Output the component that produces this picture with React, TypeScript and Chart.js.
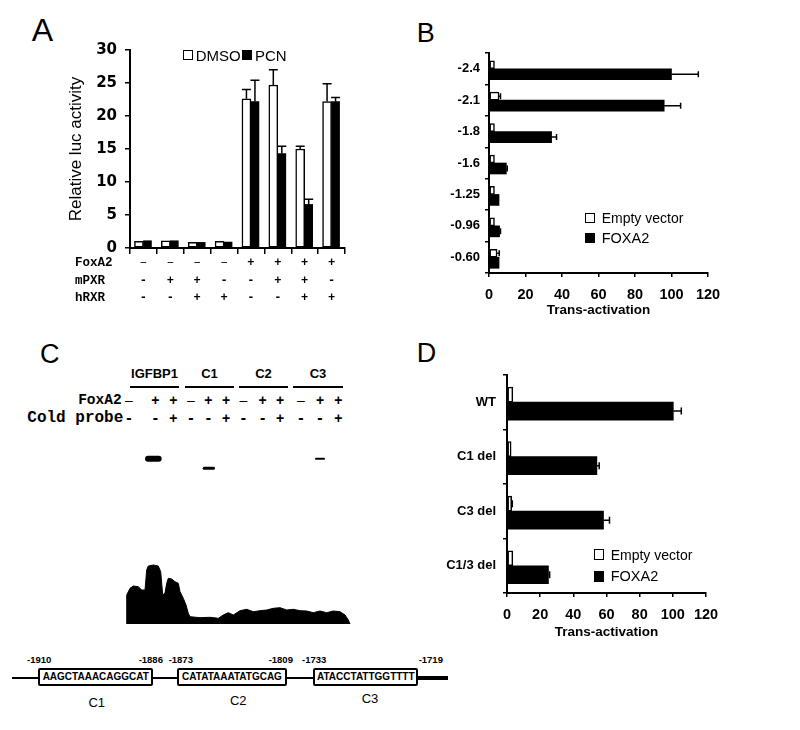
import React, { useEffect, useRef } from 'react';
import { Chart, registerables } from 'chart.js';

Chart.register(...registerables);
Chart.defaults.font.family = 'Liberation Sans';
Chart.defaults.color = '#000';

const SANS = 'Liberation Sans';
const MONO = 'Liberation Mono';

// ---------------- Panel A data ----------------
const aConditions = ['none', 'mPXR', 'mPXR+hRXR', 'hRXR', 'FoxA2', 'FoxA2+mPXR', 'FoxA2+mPXR+hRXR', 'FoxA2+hRXR'];
const aDmso = [1.0, 1.1, 0.85, 1.0, 22.6, 24.7, 15.0, 22.2];
const aDmsoErr = [0, 0, 0, 0, 1.4, 2.3, 0.4, 2.7];
const aPcn = [1.1, 1.1, 0.85, 0.9, 22.2, 14.3, 6.6, 22.2];
const aPcnErr = [0, 0, 0, 0, 3.2, 1.1, 0.8, 0.6];
const aFoxA2Signs = ['–', '–', '–', '–', '+', '+', '+', '+'];
const aMpxrSigns = ['-', '+', '+', '-', '-', '+', '+', '-'];
const aHrxrSigns = ['-', '-', '+', '+', '-', '-', '+', '+'];
const aRowNames = ['FoxA2', 'mPXR', 'hRXR'];
const aYTitle = 'Relative luc activity';
const aSeries = ['DMSO', 'PCN'];

// ---------------- Panel B data ----------------
const bConstructs = ['-2.4', '-2.1', '-1.8', '-1.6', '-1.25', '-0.96', '-0.60'];
const bEmpty = [3, 5.5, 3, 3, 3, 3, 4.4];
const bEmptyErr = [0, 0.8, 0, 0, 0, 0, 1.2];
const bFoxa2 = [100, 96, 34.3, 9.5, 5.5, 5.8, 5.5];
const bFoxa2Err = [14.7, 9, 2.7, 0.5, 0, 0.5, 0];

// ---------------- Panel D data ----------------
const dConstructs = ['WT', 'C1 del', 'C3 del', 'C1/3 del'];
const dEmpty = [3.5, 2.5, 2.8, 3.5];
const dEmptyErr = [0, 0, 0.4, 0];
const dFoxa2 = [100.3, 54.2, 58.2, 25];
const dFoxa2Err = [4.8, 1.4, 3.6, 0.7];

const transTitle = 'Trans-activation';
const transTicksMax = 120;
const transTicksStep = 20;
const bdSeries = ['Empty vector', 'FOXA2'];

// ---------------- Panel C data ----------------
const cProbes = ['IGFBP1', 'C1', 'C2', 'C3'];
const cRowNames = ['FoxA2', 'Cold probe'];
const cFoxA2Signs = ['–', '+', '+', '–', '+', '+', '–', '+', '+', '–', '+', '+'];
const cColdSigns = ['-', '-', '+', '-', '-', '+', '-', '-', '+', '-', '-', '+'];
// free-probe profile along the gel (position, intensity)
const gelPosition = [6.7, 6.7, 10, 13.3, 18.3, 21.7, 25, 26.7, 28.3, 33.3, 38.3, 40.7, 42.7, 45, 46.7, 48.3, 51.7, 55, 58.3, 60, 63.3, 66, 68.3, 70, 80, 90, 98.3, 103.3, 108.3, 113.3, 120, 126.7, 133.3, 140, 146.7, 153.3, 160, 166.7, 173.3, 180, 186.7, 193.3, 200, 206.7, 213.3, 220, 225, 228.3, 230];
const gelIntensity = [0, 29, 35.7, 38, 37.3, 34, 34, 54, 58, 59, 58, 52.3, 29, 31, 40.7, 45.7, 45, 42.3, 40.7, 32.3, 25.7, 19, 10.7, 7.3, 6.3, 6.7, 5.7, 9, 11.3, 9, 13.3, 14.7, 12.3, 13.3, 14, 15.7, 16.3, 14, 14.7, 13.3, 13, 11.3, 13, 11.3, 13, 12.3, 9, 4, 0];
// shifted bands (start, end, level along gel)
const bandStart = [28, 84.2, 196];
const bandEnd = [38.7, 93.5, 204];
const bandLevel = [165.3, 155.7, 165.2];

// ---------------- Sequence diagram data ----------------
const motifNames = ['C1', 'C2', 'C3'];
const motifSeqs = ['AAGCTAAACAGGCAT', 'CATATAAATATGCAG', 'ATACCTATTGGTTTT'];
const motifStarts = ['-1910', '-1873', '-1733'];
const motifEnds = ['-1886', '-1809', '-1719'];

// ---------------- Layout constants ----------------
const LANE_X = [129, 155.3, 173.3, 191, 208.3, 226, 243.5, 262.7, 280, 301, 320, 338.3];
const PROBE_LINES = [[130, 179], [185, 234], [239, 288], [293, 343]];
const BOX_X = [[38.3, 153.3], [176.7, 287.3], [313.3, 418.3]];
const START_CX = [39.2, 180.8, 314.2];
const END_CX = [150.8, 280.8, 430.8];
const NAME_CX = [96.7, 238.3, 370];
const NAME_CY = [701.7, 700, 698.3];

// ---------------- Plugins ----------------
function errorBarsPlugin(cap: number, lw: number) {
  return {
    id: 'errorBars',
    afterDatasetsDraw(chart: any) {
      const { ctx } = chart;
      const horizontal = chart.options.indexAxis === 'y';
      const vScale = horizontal ? chart.scales.x : chart.scales.y;
      chart.data.datasets.forEach((ds: any, di: number) => {
        const errs = ds.errors;
        if (!errs) return;
        const meta = chart.getDatasetMeta(di);
        meta.data.forEach((bar: any, i: number) => {
          const e = errs[i];
          if (!e) return;
          const end = vScale.getPixelForValue(ds.data[i] + e);
          ctx.save();
          ctx.strokeStyle = '#000';
          ctx.lineWidth = lw;
          ctx.beginPath();
          if (horizontal) {
            ctx.moveTo(bar.x, bar.y);
            ctx.lineTo(end, bar.y);
            ctx.moveTo(end, bar.y - cap / 2);
            ctx.lineTo(end, bar.y + cap / 2);
          } else {
            ctx.moveTo(bar.x, bar.y);
            ctx.lineTo(bar.x, end);
            ctx.moveTo(bar.x - cap / 2, end);
            ctx.lineTo(bar.x + cap / 2, end);
          }
          ctx.stroke();
          ctx.restore();
        });
      });
    },
  };
}

function signRowsPlugin(rows: { label: string; signs: string[]; y: number }[], labelX: number) {
  return {
    id: 'signRows',
    afterDraw(chart: any) {
      const { ctx } = chart;
      const xs = chart.scales.x;
      ctx.save();
      ctx.fillStyle = '#000';
      ctx.textBaseline = 'middle';
      rows.forEach((r) => {
        ctx.font = `bold 12.5px ${MONO}`;
        ctx.textAlign = 'left';
        ctx.fillText(r.label, labelX, r.y);
        ctx.textAlign = 'center';
        r.signs.forEach((s, i) => {
          ctx.font = s === '–' ? `13px ${MONO}` : `bold 12px ${MONO}`;
          ctx.fillText(s, xs.getPixelForValue(i), r.y);
        });
      });
      ctx.restore();
    },
  };
}

// ---------------- Configs ----------------
const baseOpts = {
  responsive: false,
  animation: false,
  devicePixelRatio: 1,
  events: [],
};

function configA(): any {
  return {
    type: 'bar',
    data: {
      labels: aConditions,
      datasets: [
        { label: aSeries[0], data: aDmso, errors: aDmsoErr, backgroundColor: '#fff', borderColor: '#000', borderWidth: 1.5, borderSkipped: false, barThickness: 9 },
        { label: aSeries[1], data: aPcn, errors: aPcnErr, backgroundColor: '#000', borderColor: '#000', borderWidth: 0, barThickness: 8 },
      ],
    },
    options: {
      ...baseOpts,
      layout: { padding: { left: 0, right: 15, top: 20, bottom: 0 } },
      plugins: { legend: { display: false }, tooltip: { enabled: false } },
      scales: {
        x: {
          type: 'category',
          offset: true,
          grid: { offset: true, drawOnChartArea: false, drawTicks: true, tickLength: 6, color: '#000', lineWidth: 1.5 },
          border: { display: true, color: '#000', width: 2 },
          ticks: { display: false },
          afterFit: (s: any) => { s.height = 72; },
        },
        y: {
          min: 0,
          max: 30,
          ticks: { stepSize: 5, font: { family: 'DejaVu Sans', weight: 'bold', size: 15 }, color: '#000', padding: 8 },
          grid: { drawOnChartArea: false, tickLength: 5, color: '#000', lineWidth: 1.5 },
          border: { display: true, color: '#000', width: 2 },
          title: { display: true, text: aYTitle, font: { family: SANS, size: 17 }, color: '#000', padding: { top: 46, bottom: 0 } },
          afterFit: (s: any) => { s.width = 110; },
        },
      },
    },
    plugins: [
      errorBarsPlugin(9, 1.5),
      signRowsPlugin(
        [
          { label: aRowNames[0], signs: aFoxA2Signs, y: 233 },
          { label: aRowNames[1], signs: aMpxrSigns, y: 250.5 },
          { label: aRowNames[2], signs: aHrxrSigns, y: 267.8 },
        ],
        55
      ),
    ],
  };
}

function configHBar(cats: string[], empty: number[], emptyErr: number[], fox: number[], foxErr: number[], p: any): any {
  return {
    type: 'bar',
    data: {
      labels: cats,
      datasets: [
        { label: bdSeries[0], data: empty, errors: emptyErr, backgroundColor: '#fff', borderColor: '#000', borderWidth: 1.5, borderSkipped: false, barThickness: p.wThick },
        { label: bdSeries[1], data: fox, errors: foxErr, backgroundColor: '#000', borderColor: '#000', borderWidth: 0, barThickness: p.bThick },
      ],
    },
    options: {
      ...baseOpts,
      indexAxis: 'y',
      layout: { padding: { left: 0, right: p.right, top: p.top, bottom: 0 } },
      plugins: { legend: { display: false }, tooltip: { enabled: false } },
      scales: {
        y: {
          type: 'category',
          offset: true,
          grid: { offset: true, drawOnChartArea: false, tickLength: 4, color: '#000', lineWidth: 1.5 },
          border: { display: true, color: '#000', width: 2 },
          ticks: { font: { family: SANS, weight: 'bold', size: 13 }, color: '#000', padding: p.yPad },
          afterFit: (s: any) => { s.width = p.yWidth; },
        },
        x: {
          min: 0,
          max: transTicksMax,
          ticks: { stepSize: transTicksStep, font: { family: SANS, weight: 'bold', size: 14.5 }, color: '#000', padding: p.xPad, maxRotation: 0 },
          grid: { drawOnChartArea: false, tickLength: 4, color: '#000', lineWidth: 1.5 },
          border: { display: true, color: '#000', width: 2 },
          title: { display: true, text: transTitle, font: { family: SANS, weight: 'bold', size: 13.5 }, color: '#000', padding: { top: 0, bottom: p.titlePad } },
          afterFit: (s: any) => { s.height = p.xHeight; },
        },
      },
    },
    plugins: [errorBarsPlugin(p.cap, 1.5)],
  };
}

function configC(): any {
  const bandThickness = [6, 3, 2];
  return {
    type: 'line',
    data: {
      datasets: [
        {
          data: gelPosition.map((x, i) => ({ x, y: gelIntensity[i] })),
          fill: 'origin',
          backgroundColor: '#000',
          borderColor: '#000',
          borderWidth: 1,
          pointRadius: 0,
          tension: 0,
        },
        ...bandStart.map((s, i) => ({
          data: [{ x: s, y: bandLevel[i] }, { x: bandEnd[i], y: bandLevel[i] }],
          borderColor: '#000',
          borderWidth: bandThickness[i],
          borderCapStyle: 'round',
          pointRadius: 0,
          fill: false,
        })),
      ],
    },
    options: {
      ...baseOpts,
      layout: { padding: { left: 0, right: 0, top: 0, bottom: 6 } },
      plugins: { legend: { display: false }, tooltip: { enabled: false } },
      scales: {
        x: { type: 'linear', min: 0, max: 240, display: false },
        y: { type: 'linear', min: 0, max: 184, display: false },
      },
    },
  };
}

// ---------------- Components ----------------
function ChartBox({ x, y, w, h, make }: { x: number; y: number; w: number; h: number; make: () => any }) {
  const ref = useRef<HTMLCanvasElement>(null);
  useEffect(() => {
    const c = new Chart(ref.current as HTMLCanvasElement, make());
    return () => c.destroy();
  }, []);
  return <canvas ref={ref} width={w} height={h} style={{ position: 'absolute', left: x, top: y, width: w, height: h }} />;
}

function Txt({ x, y, s, size, weight = 400, family = SANS, align = 'center' }: any) {
  const tx = align === 'center' ? '-50%' : align === 'right' ? '-100%' : '0';
  return (
    <div
      style={{
        position: 'absolute',
        left: x,
        top: y,
        transform: `translate(${tx},-50%)`,
        fontFamily: family,
        fontSize: size,
        fontWeight: weight,
        lineHeight: 1,
        whiteSpace: 'nowrap',
        color: '#000',
      }}
    >
      {s}
    </div>
  );
}

function Box({ x, y, w, h, fill, border = 0, radius = 0 }: any) {
  return (
    <div
      style={{
        position: 'absolute',
        left: x,
        top: y,
        width: w,
        height: h,
        background: fill,
        border: border ? `${border}px solid #000` : 'none',
        borderRadius: radius,
        boxSizing: 'border-box',
      }}
    />
  );
}

export default function App() {
  return (
    <div style={{ position: 'absolute', left: 0, top: 0, width: 800, height: 730, background: '#fff', overflow: 'hidden' }}>
      {/* Panel letters */}
      <Txt x={31.7} y={29.8} s="A" size={32} align="left" />
      <Txt x={416.7} y={33} s="B" size={27} align="left" />
      <Txt x={40} y={354} s="C" size={27} align="left" />
      <Txt x={416.7} y={353.3} s="D" size={27} align="left" />

      {/* Panel A */}
      <ChartBox x={20} y={30} w={340} h={290} make={configA} />
      <Box x={183.3} y={49.5} w={10} h={10} fill="#fff" border={1.5} />
      <Txt x={195.7} y={55} s={aSeries[0]} size={15} align="left" />
      <Box x={241.7} y={49.5} w={10.5} h={10} fill="#000" />
      <Txt x={255} y={55} s={aSeries[1]} size={15} align="left" />

      {/* Panel B */}
      <ChartBox
        x={400}
        y={40}
        w={330}
        h={290}
        make={() => configHBar(bConstructs, bEmpty, bEmptyErr, bFoxa2, bFoxa2Err, { wThick: 8, bThick: 11, right: 22, top: 13, yWidth: 89, yPad: 5, xPad: 9, xHeight: 57, titlePad: 12, cap: 6 })}
      />
      <Box x={585} y={212.7} w={10} h={10} fill="#fff" border={1.5} />
      <Txt x={601.7} y={217.5} s={bdSeries[0]} size={14} align="left" />
      <Box x={585} y={233.3} w={10} h={10} fill="#000" />
      <Txt x={601.7} y={238.3} s={bdSeries[1]} size={14.5} align="left" />

      {/* Panel D */}
      <ChartBox
        x={400}
        y={360}
        w={330}
        h={290}
        make={() => configHBar(dConstructs, dEmpty, dEmptyErr, dFoxa2, dFoxa2Err, { wThick: 15, bThick: 18, right: 24, top: 13, yWidth: 107, yPad: 7, xPad: 9.5, xHeight: 57, titlePad: 10, cap: 7 })}
      />
      <Box x={594} y={549} w={10} h={11} fill="#fff" border={1.5} />
      <Txt x={610.7} y={554.5} s={bdSeries[0]} size={14} align="left" />
      <Box x={594} y={571} w={10} h={11} fill="#000" />
      <Txt x={610.7} y={576.3} s={bdSeries[1]} size={14.5} align="left" />

      {/* Panel C: header */}
      {cProbes.map((p, i) => (
        <React.Fragment key={p}>
          <Txt x={(PROBE_LINES[i][0] + PROBE_LINES[i][1]) / 2} y={373.3} s={p} size={13} weight={700} />
          <Box x={PROBE_LINES[i][0]} y={386.3} w={PROBE_LINES[i][1] - PROBE_LINES[i][0]} h={2} fill="#000" />
        </React.Fragment>
      ))}
      <Txt x={121.7} y={399.5} s={cRowNames[0]} size={14.5} weight={700} family={MONO} align="right" />
      <Txt x={123.3} y={418.3} s={cRowNames[1]} size={16} weight={700} family={MONO} align="right" />
      {cFoxA2Signs.map((s, i) => (
        <Txt key={'f' + i} x={LANE_X[i]} y={399.5} s={s} size={14} weight={s === '–' ? 400 : 700} />
      ))}
      {cColdSigns.map((s, i) => (
        <Txt key={'c' + i} x={LANE_X[i]} y={418.3} s={s} size={s === '-' ? 16 : 14} weight={700} />
      ))}
      <ChartBox x={120} y={440} w={240} h={190} make={configC} />

      {/* Sequence diagram */}
      <Box x={12} y={676.5} w={430} h={2} fill="#000" />
      <Box x={418} y={676} w={30} h={3.5} fill="#000" />
      {motifSeqs.map((seq, i) => (
        <React.Fragment key={seq}>
          <Box x={BOX_X[i][0]} y={668.3} w={BOX_X[i][1] - BOX_X[i][0]} h={17.4} fill="#fff" border={2} radius={2} />
          <Txt x={(BOX_X[i][0] + BOX_X[i][1]) / 2} y={677.3} s={seq} size={10} weight={700} />
          <Txt x={START_CX[i]} y={660} s={motifStarts[i]} size={9.5} weight={700} />
          <Txt x={END_CX[i]} y={660} s={motifEnds[i]} size={9.5} weight={700} />
          <Txt x={NAME_CX[i]} y={NAME_CY[i]} s={motifNames[i]} size={13} />
        </React.Fragment>
      ))}
    </div>
  );
}
